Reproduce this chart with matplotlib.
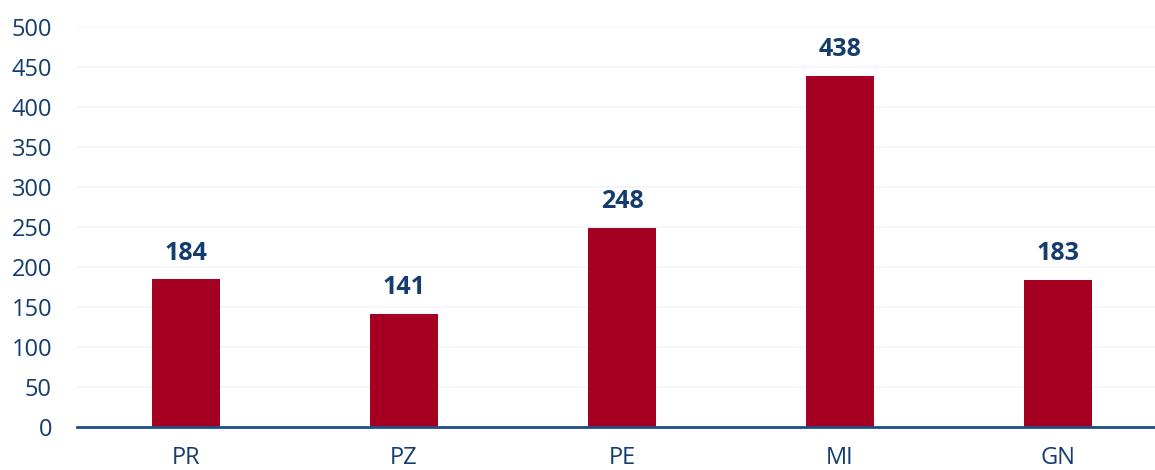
import matplotlib.pyplot as plt

plt.rcParams['font.family'] = ['Open Sans', 'DejaVu Sans']

# данные
categories = ['PR', 'PZ', 'PE', 'MI', 'GN']
values = [184, 141, 248, 438, 183]
y_ticks = [0, 50, 100, 150, 200, 250, 300, 350, 400, 450, 500]

bar_color = '#A50021'
text_color = '#143C6E'

fig = plt.figure(figsize=(11.55, 4.70), dpi=100)
ax = fig.add_axes([77 / 1155, (470 - 426.5) / 470, (1155 - 77) / 1155, 400 / 470])

x = range(len(categories))
bars = ax.bar(x, values, width=68 / 218, color=bar_color, zorder=3)

for xi, v in zip(x, values):
    ax.text(xi, v + 17, str(v), ha='center', va='bottom',
            fontsize=18, fontweight='bold', color=text_color)

ax.set_xlim(-0.5, -0.5 + (1155 - 77) / 218)
ax.set_ylim(0, 500)
ax.set_yticks(y_ticks)
ax.set_xticks(list(x))
ax.set_xticklabels(categories)

ax.grid(axis='y', color='#F3F4F9', linewidth=1.2, zorder=0)
for s in ['top', 'right', 'left']:
    ax.spines[s].set_visible(False)
ax.spines['bottom'].set_color('#1F4E85')
ax.spines['bottom'].set_linewidth(2)
ax.spines['bottom'].set_zorder(4)

ax.tick_params(axis='y', length=0, pad=18, labelsize=17, labelcolor=text_color)
ax.tick_params(axis='x', length=0, pad=14, labelsize=17, labelcolor=text_color)

fig.savefig('out.png', dpi=100)
